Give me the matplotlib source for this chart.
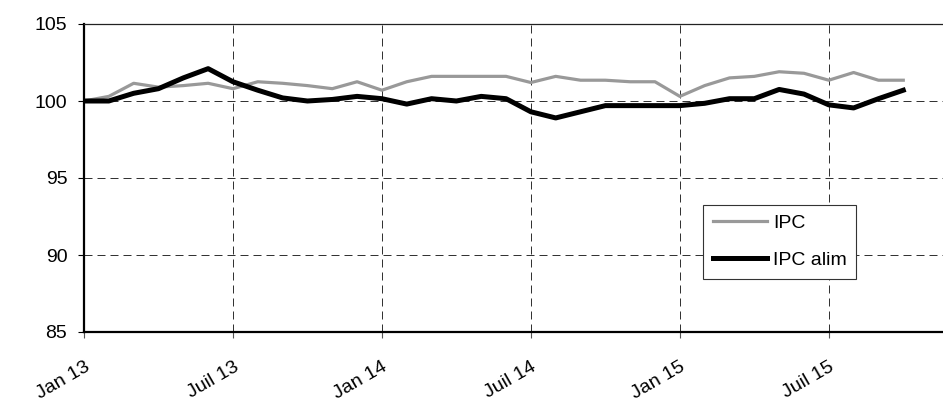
import numpy as np
import matplotlib
matplotlib.use("Agg")
import matplotlib.pyplot as plt

plt.rcParams['font.family'] = ['Liberation Sans', 'DejaVu Sans']

# monthly values, Jan 13 -> Oct 15
ipc = [100.0, 100.3, 101.15, 100.9, 101.0, 101.15, 100.8, 101.25, 101.15, 101.0, 100.8, 101.25,
       100.7, 101.25, 101.6, 101.6, 101.6, 101.6, 101.2, 101.6, 101.35, 101.35, 101.25, 101.25,
       100.3, 101.0, 101.5, 101.6, 101.9, 101.8, 101.35, 101.85, 101.35, 101.35]
ipc_alim = [100.0, 100.0, 100.5, 100.8, 101.5, 102.1, 101.25, 100.7, 100.2, 100.0, 100.1, 100.3,
            100.15, 99.8, 100.15, 100.0, 100.3, 100.15, 99.3, 98.9, 99.3, 99.7, 99.7, 99.7,
            99.7, 99.85, 100.15, 100.15, 100.75, 100.45, 99.75, 99.55, 100.15, 100.7]
tick_months = [0, 6, 12, 18, 24, 30]
tick_labels = ['Jan 13', 'Juil 13', 'Jan 14', 'Juil 14', 'Jan 15', 'Juil 15']
y_ticks = [85, 90, 95, 100, 105]

months = np.arange(len(ipc))

fig = plt.figure(figsize=(9.43, 4.05), dpi=100)
ax = fig.add_axes([84 / 943, 73 / 405, 1 - 84 / 943, 308 / 405])

ax.plot(months, ipc, color='#999999', linewidth=2.3, label='IPC', zorder=3)
ax.plot(months, ipc_alim, color='black', linewidth=3.6, label='IPC alim', zorder=4)

ax.set_xlim(0, 34.6)
ax.set_ylim(85, 105)
ax.set_yticks(y_ticks)
ax.set_xticks(tick_months)
ax.set_xticklabels(tick_labels, rotation=30, ha='right', va='top', rotation_mode='anchor')

# dashed grid (no line on the spines)
for m in tick_months[1:]:
    ax.axvline(m, color='#333333', linewidth=0.72, linestyle=(0, (8, 5)), zorder=1)
for v in [90, 95, 100]:
    ax.axhline(v, color='#333333', linewidth=0.72, linestyle=(0, (8, 5)), zorder=1)

ax.spines['right'].set_visible(False)
ax.spines['top'].set_linewidth(0.9)
ax.spines['top'].set_color('#222222')
ax.spines['left'].set_linewidth(1.6)
ax.spines['bottom'].set_linewidth(1.6)

ax.tick_params(axis='y', direction='out', length=4, width=0.8, pad=8, labelsize=14, colors='black')
ax.tick_params(axis='x', direction='out', length=4, width=0.8, pad=15, labelsize=14, color='#555555')

leg = ax.legend(loc='lower left', bbox_to_anchor=(0.7206, 0.172), fontsize=14,
                frameon=True, fancybox=False, framealpha=1, edgecolor='#333333',
                handlelength=2.8, handletextpad=0.3, labelspacing=1.0,
                borderpad=0.5, borderaxespad=0)
leg.get_frame().set_linewidth(0.8)

fig.savefig('out.png', dpi=100)
